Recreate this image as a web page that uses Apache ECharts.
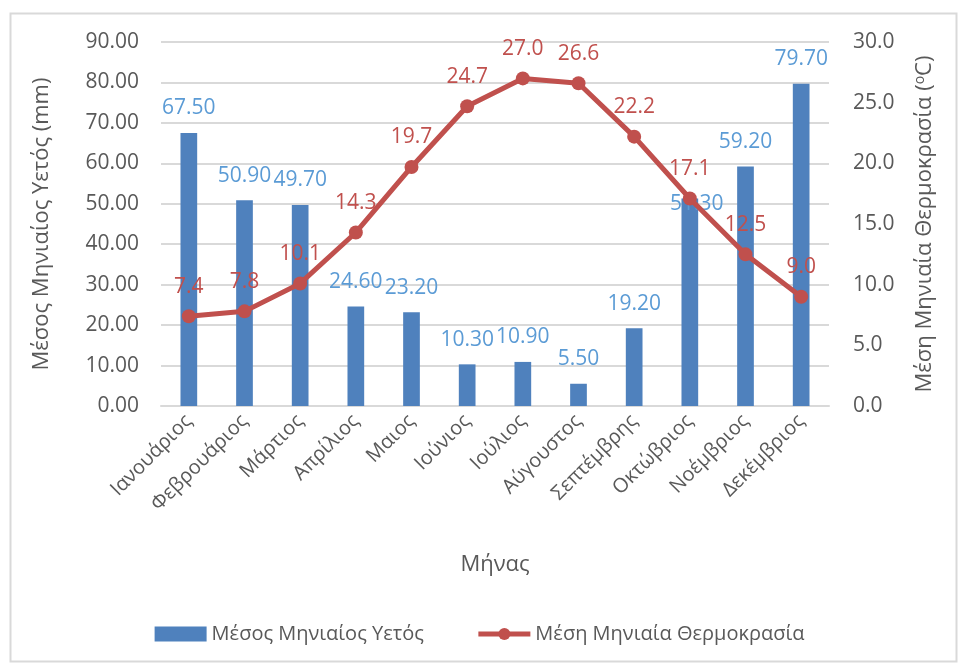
<!DOCTYPE html>
<html>
<head>
<meta charset="utf-8">
<script src="https://cdn.jsdelivr.net/npm/echarts@6/dist/echarts.min.js"></script>
<style>
  html, body { margin: 0; padding: 0; background: #fff; }
  #chart { width: 959px; height: 665px; }
</style>
</head>
<body>
<div id="chart"></div>
<script>
// Months
const months = ['Ιανουάριος', 'Φεβρουάριος', 'Μάρτιος', 'Απρίλιος', 'Μαιος', 'Ιούνιος',
  'Ιούλιος', 'Αύγουστος', 'Σεπτέμβρης', 'Οκτώβριος', 'Νοέμβριος', 'Δεκέμβριος'];
// Mean monthly rainfall (mm)
const rainfall = [67.5, 50.9, 49.7, 24.6, 23.2, 10.3, 10.9, 5.5, 19.2, 51.3, 59.2, 79.7];
// Mean monthly temperature (°C)
const temperature = [7.4, 7.8, 10.1, 14.3, 19.7, 24.7, 27.0, 26.6, 22.2, 17.1, 12.5, 9.0];

const rainName = 'Μέσος Μηνιαίος Υετός';
const tempName = 'Μέση Μηνιαία Θερμοκρασία';

const FONT = '"Open Sans", "Noto Sans", sans-serif';
const GREY = '#595959';
const BAR = '#4F81BD';
const LINE = '#C0504D';

// The October label is pushed down onto its bar with a short guide line
const shiftedLabel = 9;
const rainData = rainfall.map((v, i) => ({
  value: v,
  labelLine: { show: i === shiftedLabel }
}));

const chart = echarts.init(document.getElementById('chart'));
chart.setOption({
  animation: false,
  textStyle: { fontFamily: FONT },
  graphic: [{
    type: 'rect',
    shape: { x: 10.5, y: 13.5, width: 946, height: 648 },
    style: { fill: 'none', stroke: '#d9d9d9', lineWidth: 2 },
    silent: true
  }],
  grid: { left: 161, right: 130, top: 42, bottom: 259 },
  legend: {
    bottom: 16,
    left: 'center',
    itemGap: 52,
    itemWidth: 52,
    itemHeight: 15,
    textStyle: { color: GREY, fontSize: 20, fontFamily: FONT },
    data: [
      { name: rainName, icon: 'rect' },
      { name: tempName, lineStyle: { width: 5, color: LINE } }
    ]
  },
  xAxis: {
    type: 'category',
    data: months,
    name: 'Μήνας',
    nameLocation: 'middle',
    nameGap: 148,
    nameTextStyle: { color: GREY, fontSize: 22 },
    axisLine: { lineStyle: { color: '#d9d9d9', width: 2 } },
    axisTick: { show: false },
    axisLabel: { color: GREY, fontSize: 20, rotate: 45, margin: 12, interval: 0 }
  },
  yAxis: [{
    type: 'value',
    min: 0, max: 90, interval: 10,
    name: 'Μέσος Μηνιαίος Υετός (mm)',
    nameLocation: 'middle',
    nameGap: 108,
    nameRotate: 90,
    nameTextStyle: { color: GREY, fontSize: 22 },
    axisLine: { show: false },
    axisTick: { show: false },
    axisLabel: { color: GREY, fontSize: 21, margin: 22, formatter: v => v.toFixed(2) },
    splitLine: { lineStyle: { color: '#d9d9d9', width: 2 } }
  }, {
    type: 'value',
    min: 0, max: 30, interval: 5,
    name: '{t|Μέση Μηνιαία Θερμοκρασία (}{s|o}{t|C)}',
    nameLocation: 'middle',
    nameGap: 84,
    nameRotate: 90,
    nameTextStyle: {
      color: GREY,
      rich: {
        t: { fontSize: 22, color: GREY, fontFamily: FONT },
        s: { fontSize: 14, color: GREY, fontFamily: FONT, verticalAlign: 'top', padding: [0, 0, 10, 0] }
      }
    },
    axisLine: { show: false },
    axisTick: { show: false },
    axisLabel: { color: GREY, fontSize: 21, margin: 24, formatter: v => v.toFixed(1) },
    splitLine: { show: false }
  }],
  series: [{
    name: rainName,
    type: 'bar',
    yAxisIndex: 0,
    barWidth: '30%',
    itemStyle: { color: BAR },
    data: rainData,
    label: {
      show: true,
      position: 'top',
      distance: 14,
      color: '#5B9BD5',
      fontSize: 21,
      formatter: p => p.value.toFixed(2)
    },
    labelLayout: p => (p.dataIndex === shiftedLabel ? { dx: 7, dy: 30 } : {}),
    labelLine: { show: true, lineStyle: { color: '#a6a6a6', width: 1.5 } }
  }, {
    name: tempName,
    type: 'line',
    yAxisIndex: 1,
    symbol: 'circle',
    symbolSize: 14,
    lineStyle: { color: LINE, width: 5 },
    itemStyle: { color: LINE },
    data: temperature,
    z: 3,
    label: {
      show: true,
      position: 'top',
      distance: 12,
      color: LINE,
      fontSize: 21,
      formatter: p => p.value.toFixed(1)
    }
  }]
});
</script>
</body>
</html>
